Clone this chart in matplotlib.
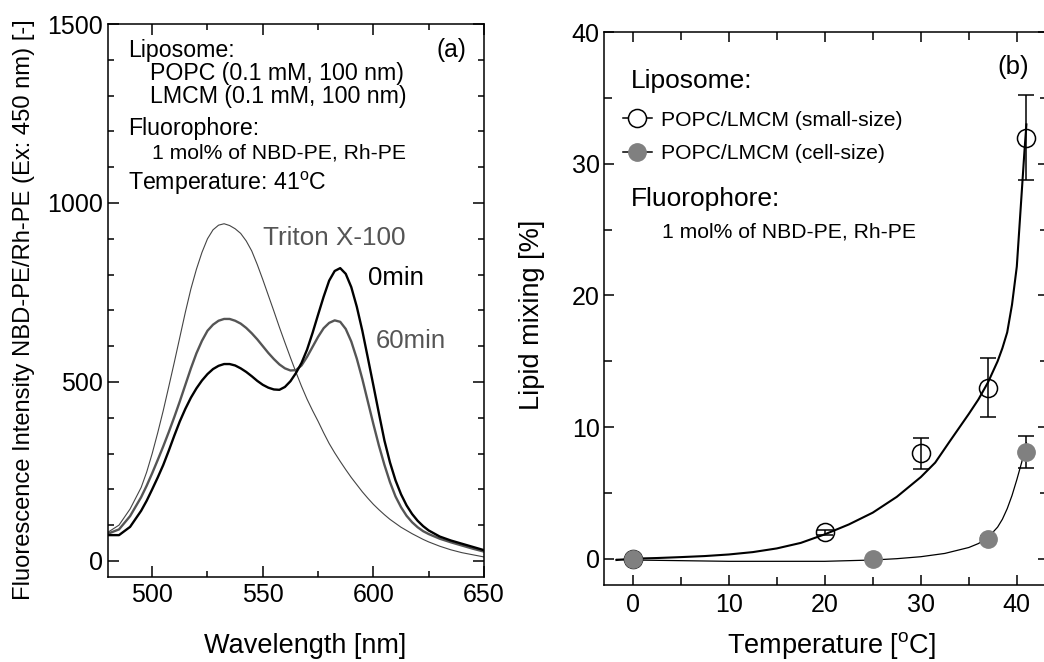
import numpy as np
import matplotlib
matplotlib.use("Agg")
import matplotlib.pyplot as plt
from matplotlib.lines import Line2D
from matplotlib.ticker import MultipleLocator

plt.rcParams['font.family'] = ['Liberation Sans', 'DejaVu Sans']
plt.rcParams['mathtext.fontset'] = 'custom'
plt.rcParams['mathtext.rm'] = 'Liberation Sans'
plt.rcParams['mathtext.it'] = 'Liberation Sans:italic'

# (a) emission spectra
wavelength = [480, 485, 490, 495, 497.5, 500, 502.5, 505, 507.5, 510, 512.5,
              515, 517.5, 520, 522.5, 525, 527.5, 530, 532.5, 535, 537.5, 540,
              542.5, 545, 547.5, 550, 552.5, 555, 557.5, 560, 562.5, 565,
              567.5, 570, 572.5, 575, 577.5, 580, 582.5, 585, 587.5, 590,
              592.5, 595, 597.5, 600, 602.5, 605, 607.5, 610, 612.5, 615,
              617.5, 620, 622.5, 625, 630, 635, 640, 645, 650]
triton = [80, 100, 145, 205, 248, 300, 358, 420, 487, 555, 625,
          695, 760, 815, 862, 900, 925, 938, 942, 937, 928, 915,
          894, 866, 828, 786, 742, 698, 653, 610, 568, 527,
          488, 452, 420, 390, 358, 328, 302, 278, 255, 233,
          213, 193, 175, 158, 143, 129, 116, 105, 94, 85,
          76, 68, 60, 53, 41, 31, 23, 17, 11]
min60 = [76, 88, 125, 178, 210, 245, 282, 320, 360, 402, 446,
         492, 538, 580, 615, 643, 660, 671, 676, 676, 671, 663,
         651, 636, 619, 600, 581, 564, 549, 538, 532, 533,
         546, 570, 598, 626, 650, 665, 672, 668, 648, 613,
         565, 508, 445, 382, 322, 268, 220, 180, 150, 126,
         108, 94, 83, 75, 62, 52, 43, 34, 26]
min0 = [72, 72, 95, 140, 168, 200, 233, 268, 308, 350, 390,
        425, 456, 482, 504, 522, 536, 545, 550, 550, 546, 538,
        528, 516, 503, 492, 484, 479, 478, 486, 502, 525,
        553, 590, 637, 688, 738, 783, 810, 818, 802, 765,
        710, 643, 567, 490, 412, 336, 275, 225, 186, 155,
        131, 112, 97, 85, 68, 57, 48, 39, 30]

# (b) lipid mixing vs temperature
t_small = [0, 20, 30, 37, 41]
mix_small = [0.0, 2.0, 8.0, 13.0, 32.0]
err_small = [0.0, 0.2, 1.15, 2.25, 3.2]
t_cell = [0, 25, 37, 41]
mix_cell = [0.0, 0.0, 1.5, 8.1]
err_cell = [0.0, 0.0, 0.2, 1.2]

fit_small_t = [-1.7, 0, 2.5, 5, 7.5, 10, 12.5, 15, 17.5, 20, 22.5, 25, 27.5,
               30, 31.5, 33, 35, 36, 37, 38, 38.5, 39, 39.5, 40, 40.3, 40.6,
               40.8, 41]
fit_small_y = [-0.1, 0.0, 0.05, 0.12, 0.2, 0.32, 0.5, 0.78, 1.2, 1.85, 2.6,
               3.5, 4.7, 6.2, 7.3, 8.9, 11.0, 12.1, 13.4, 15.0, 16.0, 17.2,
               19.3, 22.2, 25.5, 28.8, 31.0, 33.0]
fit_cell_t = [-1.7, 0, 5, 10, 15, 20, 25, 27.5, 30, 32.5, 35, 36, 37, 38,
              38.5, 39, 39.5, 40, 40.5, 41]
fit_cell_y = [-0.05, -0.1, -0.15, -0.2, -0.2, -0.2, -0.1, 0.0, 0.15, 0.4,
              0.85, 1.15, 1.6, 2.4, 3.0, 3.8, 4.8, 6.0, 7.3, 8.8]

fig = plt.figure(figsize=(10.44, 6.62), dpi=100)
ax1 = fig.add_axes([0.1034, 0.1284, 0.3602, 0.8353])
ax2 = fig.add_axes([0.5785, 0.1163, 0.4258, 0.8349])

# ---- panel (a)
ax1.plot(wavelength, triton, color='#444444', lw=0.8)
ax1.plot(wavelength, min60, color='#555555', lw=1.7)
ax1.plot(wavelength, min0, color='black', lw=1.7)
ax1.set_xlim(480, 650)
ax1.set_ylim(-45, 1500)
ax1.xaxis.set_major_locator(MultipleLocator(50))
ax1.xaxis.set_minor_locator(MultipleLocator(25))
ax1.yaxis.set_major_locator(MultipleLocator(500))
ax1.yaxis.set_minor_locator(MultipleLocator(100))
ax1.tick_params(which='both', direction='in', top=True, right=True, width=1.1,
                labelsize=18)
ax1.tick_params(which='major', length=8)
ax1.tick_params(which='minor', length=4.3)
ax1.tick_params(axis='x', pad=4.3)
ax1.tick_params(axis='y', pad=3.6)
ax1.set_xlabel('Wavelength [nm]', fontsize=19.5, va='center')
ax1.xaxis.set_label_coords(0.524, -0.125)
ax1.set_ylabel('Fluorescence Intensity NBD-PE/Rh-PE (Ex: 450 nm) [-]',
               fontsize=17.1, va='center')
ax1.yaxis.set_label_coords(-0.223, 0.483)

tr = ax1.transAxes
ax1.text(0.054, 0.941, 'Liposome:', transform=tr, fontsize=16.7)
ax1.text(0.113, 0.899, 'POPC (0.1 mM, 100 nm)', transform=tr, fontsize=16.7)
ax1.text(0.113, 0.857, 'LMCM (0.1 mM, 100 nm)', transform=tr, fontsize=16.7)
ax1.text(0.054, 0.799, 'Fluorophore:', transform=tr, fontsize=16.7)
ax1.text(0.116, 0.757, '1 mol% of NBD-PE, Rh-PE', transform=tr, fontsize=15.2)
ax1.text(0.054, 0.700, r'Temperature: 41$^{\mathrm{o}}$C', transform=tr,
         fontsize=16.7)
ax1.text(0.874, 0.941, '(a)', transform=tr, fontsize=17.7)
ax1.text(0.413, 0.600, 'Triton X-100', transform=tr, fontsize=18.8,
         color='#555555')
ax1.text(0.692, 0.528, '0min', transform=tr, fontsize=18.5, color='black')
ax1.text(0.713, 0.415, '60min', transform=tr, fontsize=18.5, color='#555555')

# ---- panel (b)
ax2.plot(fit_small_t, fit_small_y, color='black', lw=1.5)
ax2.plot(fit_cell_t, fit_cell_y, color='black', lw=0.9)
ax2.errorbar(t_small, mix_small, yerr=err_small, fmt='o', ms=13,
             mfc='none', mec='black', mew=1.1, ecolor='black', elinewidth=1.1,
             capsize=6, capthick=1.1, zorder=3)
ax2.errorbar(t_cell, mix_cell, yerr=err_cell, fmt='o', ms=12.5,
             mfc='#808080', mec='#808080', ecolor='black', elinewidth=1.1,
             capsize=6, capthick=1.1, zorder=4)
ax2.set_xlim(-3, 43.3)
ax2.set_ylim(-2, 40)
ax2.xaxis.set_major_locator(MultipleLocator(10))
ax2.xaxis.set_minor_locator(MultipleLocator(5))
ax2.yaxis.set_major_locator(MultipleLocator(10))
ax2.yaxis.set_minor_locator(MultipleLocator(5))
ax2.tick_params(which='both', direction='in', top=True, right=True, width=1.1,
                labelsize=18)
ax2.tick_params(which='major', length=7.5)
ax2.tick_params(which='minor', length=5.5)
ax2.tick_params(axis='x', pad=5.8)
ax2.tick_params(axis='y', pad=3)
ax2.set_xlabel(r'Temperature [$^{\mathrm{o}}$C]', fontsize=19.5, va='center')
ax2.xaxis.set_label_coords(0.511, -0.110)
ax2.set_ylabel('Lipid mixing [%]', fontsize=19.5, va='center')
ax2.yaxis.set_label_coords(-0.162, 0.489)

tr2 = ax2.transAxes
ax2.text(0.060, 0.899, 'Liposome:', transform=tr2, fontsize=19)
ax2.text(0.060, 0.686, 'Fluorophore:', transform=tr2, fontsize=19)
ax2.text(0.130, 0.629, '1 mol% of NBD-PE, Rh-PE', transform=tr2, fontsize=15.2)
ax2.text(0.885, 0.925, '(b)', transform=tr2, fontsize=18.5)

handles = [
    Line2D([], [], color='black', lw=1.1, marker='o', ms=13, mfc='white',
           mec='black', mew=1.1),
    Line2D([], [], color='black', lw=1.1, marker='o', ms=12.5, mfc='#808080',
           mec='#808080'),
]
ax2.legend(handles, ['POPC/LMCM (small-size)', 'POPC/LMCM (cell-size)'],
           loc='upper left', bbox_to_anchor=(0.042, 0.858), frameon=False,
           fontsize=15.2, handlelength=1.4, handletextpad=0.43,
           labelspacing=0.69, borderpad=0, borderaxespad=0)

for ax in (ax1, ax2):
    for s in ax.spines.values():
        s.set_linewidth(1.1)

plt.savefig('out.png', dpi=100)
